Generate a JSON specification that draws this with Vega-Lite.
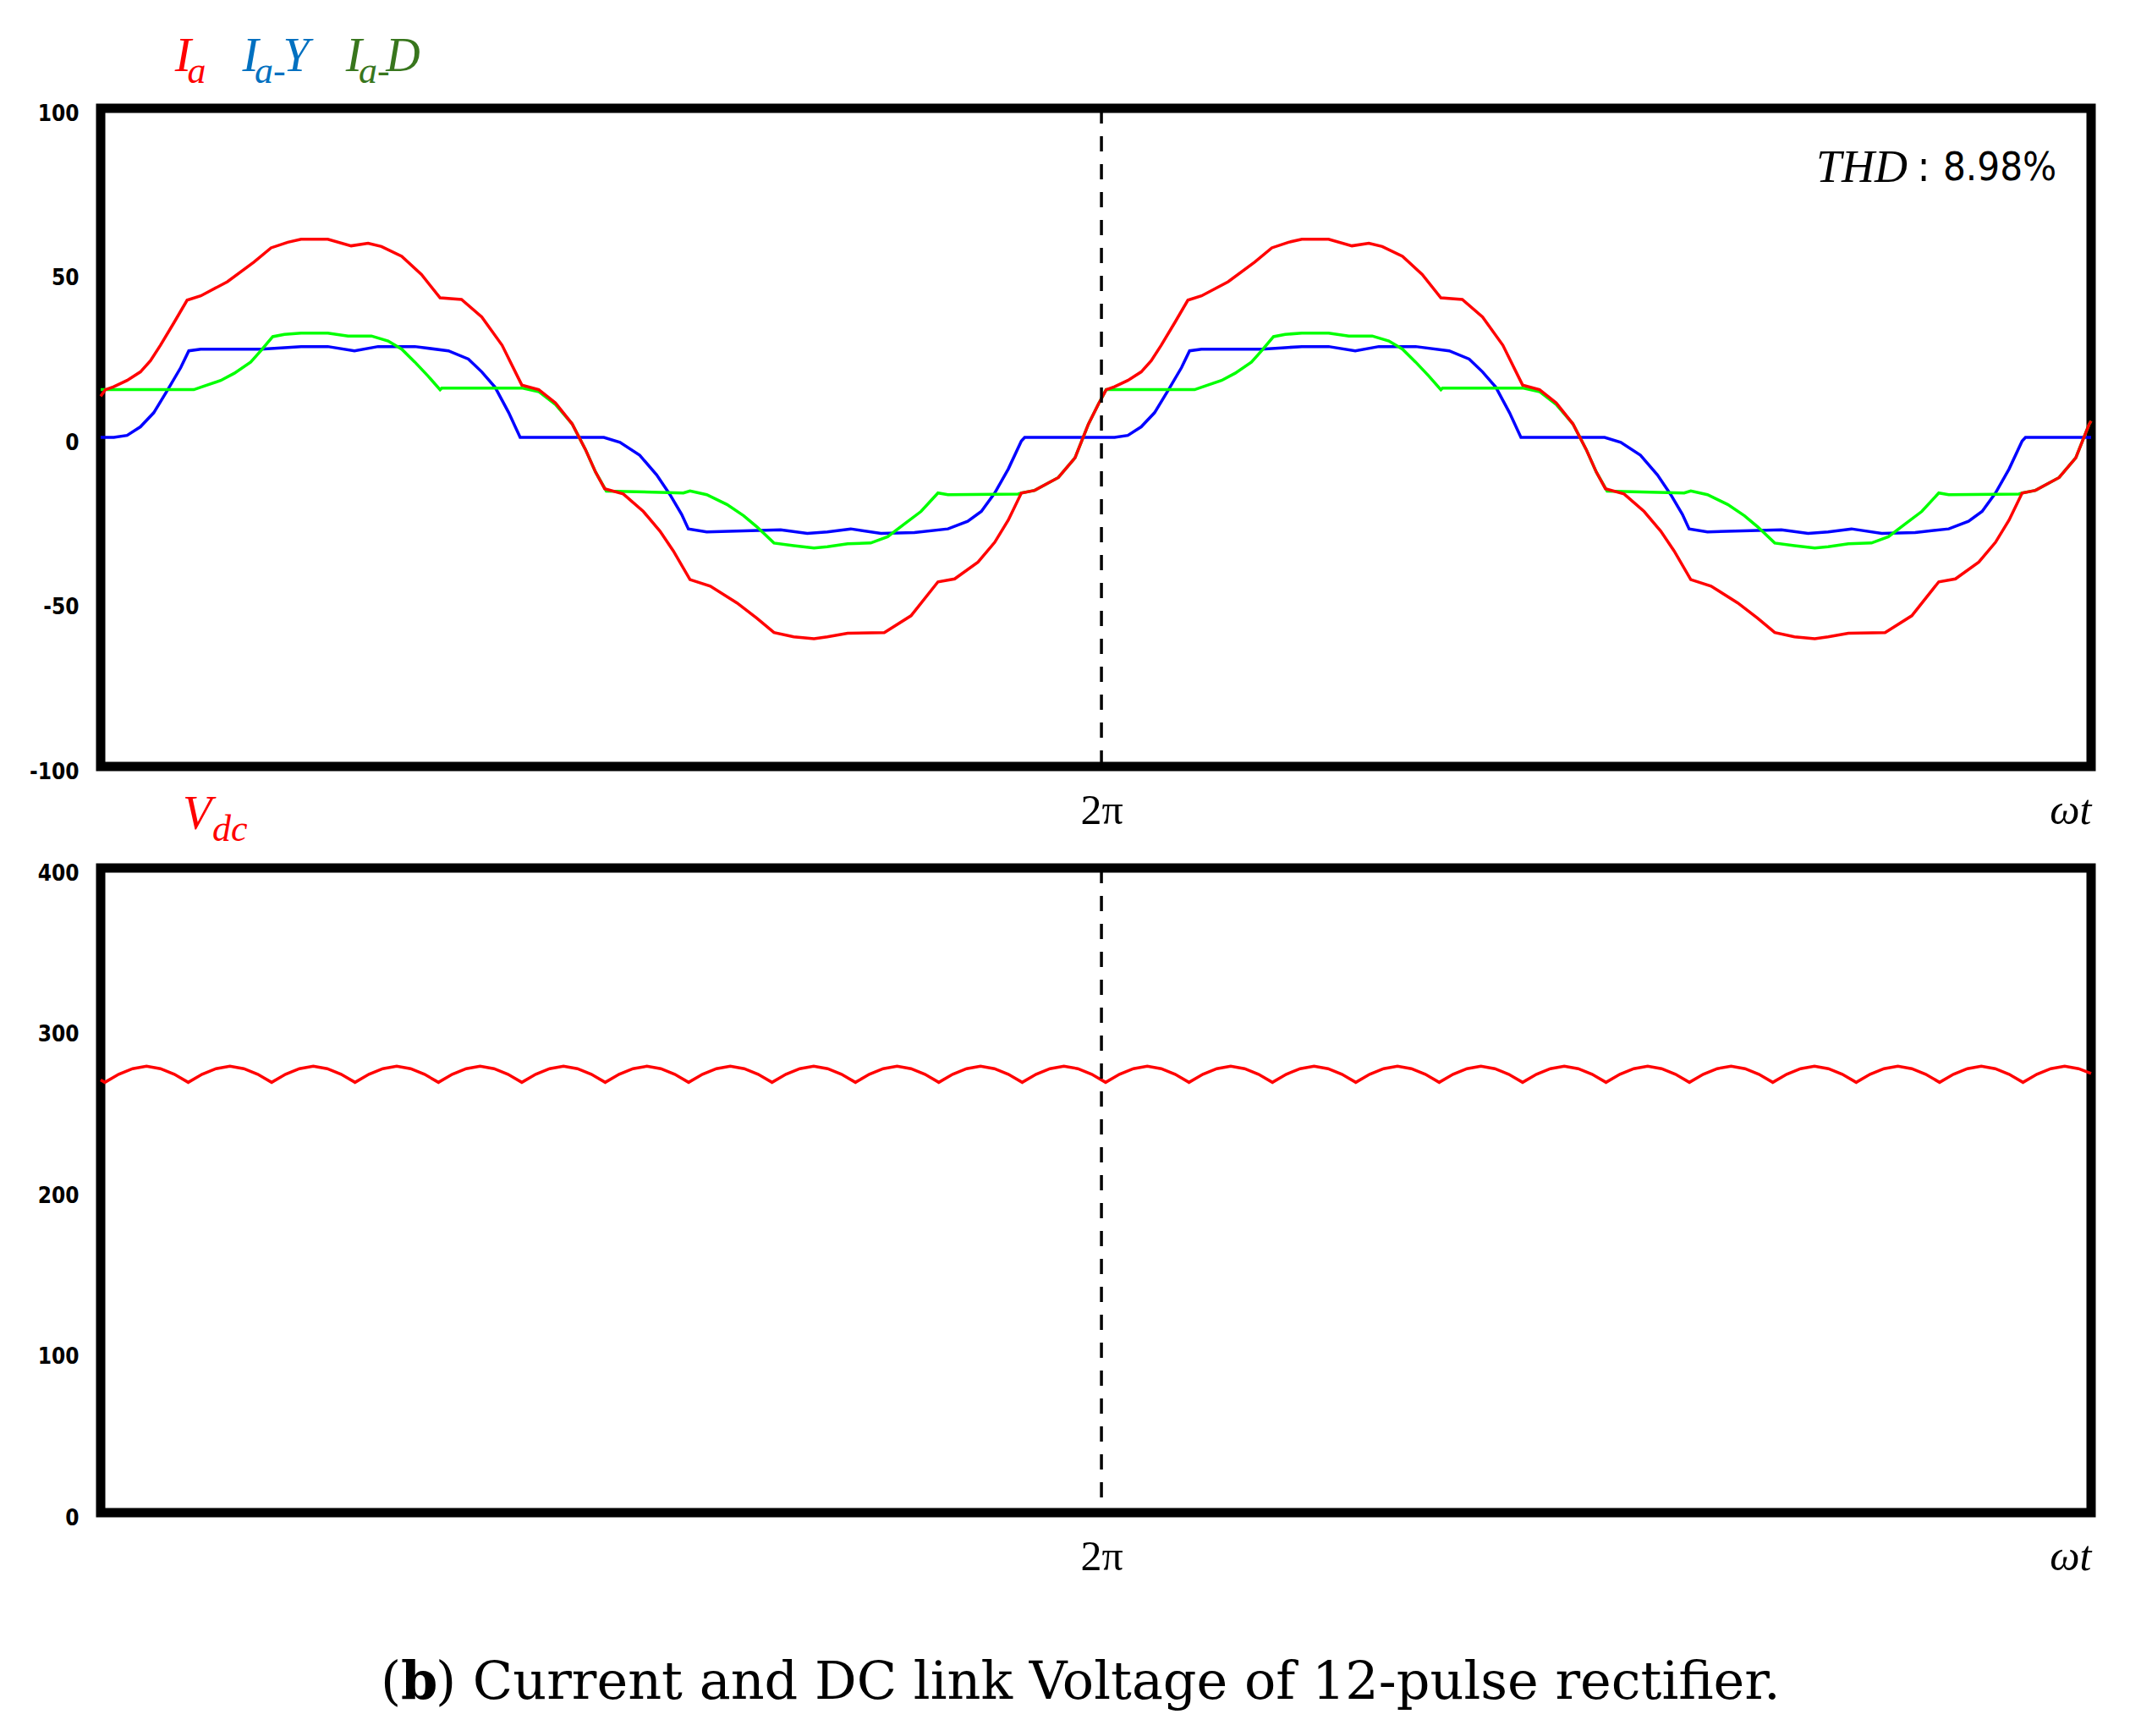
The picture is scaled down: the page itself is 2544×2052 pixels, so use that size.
{
  "$schema": "https://vega.github.io/schema/vega-lite/v6.json",
  "background": "white",
  "padding": {"left": 28, "top": 32, "right": 20, "bottom": 10},
  "bounds": "flush",
  "spacing": 120,
  "config": {
    "view": {"stroke": "black", "strokeWidth": 11},
    "axis": {"grid": false, "domain": false, "ticks": false, "title": null},
    "axisY": {
      "labelFont": "Liberation Sans Narrow, DejaVu Sans Condensed, sans-serif",
      "labelFontWeight": "bold",
      "labelFontSize": 26,
      "labelColor": "black",
      "labelPadding": 26,
      "labelOffset": 6
    },
    "axisX": {
      "labelFont": "Liberation Serif, DejaVu Serif, serif",
      "labelFontSize": 50,
      "labelColor": "black",
      "labelPadding": 27,
      "labelFlush": false
    }
  },
  "datasets": {
    "ia": [
      {"t":0,"v":12.5},{"t":1.7,"v":14.5},{"t":4.7,"v":15.4},{"t":9.5,"v":17.3},{"t":14.3,"v":19.9},{"t":17.9,"v":23.3},{"t":21.5,"v":28},{"t":26.4,"v":34.9},{"t":31.1,"v":41.7},{"t":36,"v":43},{"t":45.6,"v":47.3},{"t":55.2,"v":53.3},{"t":61.3,"v":57.6},{"t":67.3,"v":59.3},{"t":72.1,"v":60.2},{"t":81.7,"v":60.2},{"t":90.1,"v":58.2},{"t":96.2,"v":59},{"t":101,"v":58},{"t":108.3,"v":55},{"t":115.4,"v":49.5},{"t":122.1,"v":42.4},{"t":129.8,"v":41.9},{"t":137.1,"v":36.6},{"t":144.4,"v":28},{"t":151.5,"v":15.9},{"t":157.6,"v":14.5},{"t":163.6,"v":10.5},{"t":169.6,"v":4.1},{"t":174.4,"v":-3.7},{"t":178,"v":-10.5},{"t":181.3,"v":-15.6},{"t":188,"v":-17.2},{"t":195.2,"v":-22.5},{"t":201.2,"v":-28.5},{"t":206,"v":-34.5},{"t":212,"v":-43.2},{"t":219.3,"v":-45.2},{"t":228.9,"v":-50.3},{"t":236.1,"v":-55},{"t":242.2,"v":-59.3},{"t":249.3,"v":-60.6},{"t":256.6,"v":-61.2},{"t":261.4,"v":-60.6},{"t":268.7,"v":-59.5},{"t":281.9,"v":-59.3},{"t":291.5,"v":-54.2},{"t":301.2,"v":-43.9},{"t":307.2,"v":-43},{"t":315.6,"v":-37.9},{"t":321.6,"v":-31.9},{"t":326.5,"v":-25.1},{"t":331.2,"v":-16.9},{"t":336,"v":-16.1},{"t":344.5,"v":-12.2},{"t":350.5,"v":-6.2},{"t":355.3,"v":4},{"t":358.9,"v":10.1},
      {"t":361.7,"v":14.5},{"t":364.7,"v":15.4},{"t":369.5,"v":17.3},{"t":374.3,"v":19.9},{"t":377.9,"v":23.3},{"t":381.5,"v":28},{"t":386.4,"v":34.9},{"t":391.1,"v":41.7},{"t":396,"v":43},{"t":405.6,"v":47.3},{"t":415.2,"v":53.3},{"t":421.3,"v":57.6},{"t":427.3,"v":59.3},{"t":432.1,"v":60.2},{"t":441.7,"v":60.2},{"t":450.1,"v":58.2},{"t":456.2,"v":59},{"t":461,"v":58},{"t":468.3,"v":55},{"t":475.4,"v":49.5},{"t":482.1,"v":42.4},{"t":489.8,"v":41.9},{"t":497.1,"v":36.6},{"t":504.4,"v":28},{"t":511.5,"v":15.9},{"t":517.6,"v":14.5},{"t":523.6,"v":10.5},{"t":529.6,"v":4.1},{"t":534.4,"v":-3.7},{"t":538,"v":-10.5},{"t":541.3,"v":-15.6},{"t":548,"v":-17.2},{"t":555.2,"v":-22.5},{"t":561.2,"v":-28.5},{"t":566,"v":-34.5},{"t":572,"v":-43.2},{"t":579.3,"v":-45.2},{"t":588.9,"v":-50.3},{"t":596.1,"v":-55},{"t":602.2,"v":-59.3},{"t":609.3,"v":-60.6},{"t":616.6,"v":-61.2},{"t":621.4,"v":-60.6},{"t":628.7,"v":-59.5},{"t":641.9,"v":-59.3},{"t":651.5,"v":-54.2},{"t":661.2,"v":-43.9},{"t":667.2,"v":-43},{"t":675.6,"v":-37.9},{"t":681.6,"v":-31.9},{"t":686.5,"v":-25.1},{"t":691.2,"v":-16.9},{"t":696,"v":-16.1},{"t":704.5,"v":-12.2},{"t":710.5,"v":-6.2},{"t":715.3,"v":4},{"t":716,"v":5}
    ],
    "ia_y": [
      {"t":0,"v":0},{"t":4.7,"v":0},{"t":9.5,"v":0.6},{"t":14.3,"v":3.2},{"t":19.1,"v":7.5},{"t":24,"v":14.3},{"t":28.8,"v":21.2},{"t":31.7,"v":26.3},{"t":36,"v":26.8},{"t":57.6,"v":26.8},{"t":64.9,"v":27.2},{"t":72.1,"v":27.6},{"t":81.7,"v":27.6},{"t":91.3,"v":26.3},{"t":99.8,"v":27.6},{"t":113,"v":27.6},{"t":125.1,"v":26.3},{"t":132.3,"v":23.8},{"t":137.1,"v":19.9},{"t":141.9,"v":15.2},{"t":146.8,"v":7.5},{"t":150.9,"v":0},{"t":181,"v":0},{"t":186.8,"v":-1.5},{"t":193.9,"v":-5.4},{"t":200,"v":-11.4},{"t":204.8,"v":-17.4},{"t":209,"v":-23.4},{"t":211.4,"v":-27.8},{"t":218,"v":-28.7},{"t":244.6,"v":-28.1},{"t":254.2,"v":-29.2},{"t":261.4,"v":-28.7},{"t":269.8,"v":-27.8},{"t":280.7,"v":-29.2},{"t":292.7,"v":-28.9},{"t":304.8,"v":-27.8},{"t":311.9,"v":-25.5},{"t":316.8,"v":-22.5},{"t":321.6,"v":-16.9},{"t":326.5,"v":-9.6},{"t":331.2,"v":-1.1},{"t":332.4,"v":0},
      {"t":364.7,"v":0},{"t":369.5,"v":0.6},{"t":374.3,"v":3.2},{"t":379.1,"v":7.5},{"t":384,"v":14.3},{"t":388.8,"v":21.2},{"t":391.7,"v":26.3},{"t":396,"v":26.8},{"t":417.6,"v":26.8},{"t":424.9,"v":27.2},{"t":432.1,"v":27.6},{"t":441.7,"v":27.6},{"t":451.3,"v":26.3},{"t":459.8,"v":27.6},{"t":473,"v":27.6},{"t":485.1,"v":26.3},{"t":492.3,"v":23.8},{"t":497.1,"v":19.9},{"t":501.9,"v":15.2},{"t":506.8,"v":7.5},{"t":510.9,"v":0},{"t":541,"v":0},{"t":546.8,"v":-1.5},{"t":553.9,"v":-5.4},{"t":560,"v":-11.4},{"t":564.8,"v":-17.4},{"t":569,"v":-23.4},{"t":571.4,"v":-27.8},{"t":578,"v":-28.7},{"t":604.6,"v":-28.1},{"t":614.2,"v":-29.2},{"t":621.4,"v":-28.7},{"t":629.8,"v":-27.8},{"t":640.7,"v":-29.2},{"t":652.7,"v":-28.9},{"t":664.8,"v":-27.8},{"t":671.9,"v":-25.5},{"t":676.8,"v":-22.5},{"t":681.6,"v":-16.9},{"t":686.5,"v":-9.6},{"t":691.2,"v":-1.1},{"t":692.4,"v":0},{"t":716,"v":0}
    ],
    "ia_d": [
      {"t":0,"v":14.5},{"t":33.5,"v":14.5},{"t":37.2,"v":15.6},{"t":43.2,"v":17.3},{"t":48.1,"v":19.5},{"t":54,"v":22.9},{"t":57.6,"v":26.3},{"t":61.9,"v":30.6},{"t":66.1,"v":31.3},{"t":72.1,"v":31.7},{"t":81.7,"v":31.7},{"t":89,"v":30.8},{"t":97.4,"v":30.8},{"t":103.4,"v":29.3},{"t":108.3,"v":26.8},{"t":113,"v":22.9},{"t":117.8,"v":18.6},{"t":122.1,"v":14.5},{"t":122.7,"v":15},{"t":151.5,"v":15},{"t":157.6,"v":13.9},{"t":163.6,"v":10},{"t":169.6,"v":4.1},{"t":174.4,"v":-3.7},{"t":178,"v":-10.5},{"t":181.9,"v":-16.3},{"t":209.6,"v":-16.9},{"t":212,"v":-16.3},{"t":218,"v":-17.4},{"t":225.3,"v":-20.4},{"t":231.3,"v":-23.8},{"t":236.1,"v":-27.2},{"t":242.2,"v":-32.1},{"t":249.3,"v":-32.9},{"t":256.6,"v":-33.6},{"t":261.4,"v":-33.2},{"t":268.7,"v":-32.3},{"t":277,"v":-32.1},{"t":283.1,"v":-30.2},{"t":289,"v":-26.4},{"t":295.1,"v":-22.5},{"t":301.2,"v":-16.9},{"t":304.8,"v":-17.4},{"t":330,"v":-17.2},{"t":331.2,"v":-16.9},{"t":336,"v":-16.1},{"t":344.5,"v":-12.2},{"t":350.5,"v":-6.2},{"t":355.3,"v":4},{"t":358.9,"v":10.1},
      {"t":361.7,"v":14.5},{"t":393.5,"v":14.5},{"t":397.2,"v":15.6},{"t":403.2,"v":17.3},{"t":408.1,"v":19.5},{"t":414,"v":22.9},{"t":417.6,"v":26.3},{"t":421.9,"v":30.6},{"t":426.1,"v":31.3},{"t":432.1,"v":31.7},{"t":441.7,"v":31.7},{"t":449,"v":30.8},{"t":457.4,"v":30.8},{"t":463.4,"v":29.3},{"t":468.3,"v":26.8},{"t":473,"v":22.9},{"t":477.8,"v":18.6},{"t":482.1,"v":14.5},{"t":482.7,"v":15},{"t":511.5,"v":15},{"t":517.6,"v":13.9},{"t":523.6,"v":10},{"t":529.6,"v":4.1},{"t":534.4,"v":-3.7},{"t":538,"v":-10.5},{"t":541.9,"v":-16.3},{"t":569.6,"v":-16.9},{"t":572,"v":-16.3},{"t":578,"v":-17.4},{"t":585.3,"v":-20.4},{"t":591.3,"v":-23.8},{"t":596.1,"v":-27.2},{"t":602.2,"v":-32.1},{"t":609.3,"v":-32.9},{"t":616.6,"v":-33.6},{"t":621.4,"v":-33.2},{"t":628.7,"v":-32.3},{"t":637,"v":-32.1},{"t":643.1,"v":-30.2},{"t":649,"v":-26.4},{"t":655.1,"v":-22.5},{"t":661.2,"v":-16.9},{"t":664.8,"v":-17.4},{"t":690,"v":-17.2},{"t":691.2,"v":-16.9},{"t":696,"v":-16.1},{"t":704.5,"v":-12.2},{"t":710.5,"v":-6.2},{"t":715.3,"v":4},{"t":716,"v":5}
    ],
    "vdc": [
      {"t":0,"v":268.5},
      {"t":1.5,"v":267},{"t":6.5,"v":272},{"t":11.5,"v":275.5},{"t":16.5,"v":277},{"t":21.5,"v":275.5},{"t":26.5,"v":272},
      {"t":31.5,"v":267},{"t":36.5,"v":272},{"t":41.5,"v":275.5},{"t":46.5,"v":277},{"t":51.5,"v":275.5},{"t":56.5,"v":272},
      {"t":61.5,"v":267},{"t":66.5,"v":272},{"t":71.5,"v":275.5},{"t":76.5,"v":277},{"t":81.5,"v":275.5},{"t":86.5,"v":272},
      {"t":91.5,"v":267},{"t":96.5,"v":272},{"t":101.5,"v":275.5},{"t":106.5,"v":277},{"t":111.5,"v":275.5},{"t":116.5,"v":272},
      {"t":121.5,"v":267},{"t":126.5,"v":272},{"t":131.5,"v":275.5},{"t":136.5,"v":277},{"t":141.5,"v":275.5},{"t":146.5,"v":272},
      {"t":151.5,"v":267},{"t":156.5,"v":272},{"t":161.5,"v":275.5},{"t":166.5,"v":277},{"t":171.5,"v":275.5},{"t":176.5,"v":272},
      {"t":181.5,"v":267},{"t":186.5,"v":272},{"t":191.5,"v":275.5},{"t":196.5,"v":277},{"t":201.5,"v":275.5},{"t":206.5,"v":272},
      {"t":211.5,"v":267},{"t":216.5,"v":272},{"t":221.5,"v":275.5},{"t":226.5,"v":277},{"t":231.5,"v":275.5},{"t":236.5,"v":272},
      {"t":241.5,"v":267},{"t":246.5,"v":272},{"t":251.5,"v":275.5},{"t":256.5,"v":277},{"t":261.5,"v":275.5},{"t":266.5,"v":272},
      {"t":271.5,"v":267},{"t":276.5,"v":272},{"t":281.5,"v":275.5},{"t":286.5,"v":277},{"t":291.5,"v":275.5},{"t":296.5,"v":272},
      {"t":301.5,"v":267},{"t":306.5,"v":272},{"t":311.5,"v":275.5},{"t":316.5,"v":277},{"t":321.5,"v":275.5},{"t":326.5,"v":272},
      {"t":331.5,"v":267},{"t":336.5,"v":272},{"t":341.5,"v":275.5},{"t":346.5,"v":277},{"t":351.5,"v":275.5},{"t":356.5,"v":272},
      {"t":361.5,"v":267},{"t":366.5,"v":272},{"t":371.5,"v":275.5},{"t":376.5,"v":277},{"t":381.5,"v":275.5},{"t":386.5,"v":272},
      {"t":391.5,"v":267},{"t":396.5,"v":272},{"t":401.5,"v":275.5},{"t":406.5,"v":277},{"t":411.5,"v":275.5},{"t":416.5,"v":272},
      {"t":421.5,"v":267},{"t":426.5,"v":272},{"t":431.5,"v":275.5},{"t":436.5,"v":277},{"t":441.5,"v":275.5},{"t":446.5,"v":272},
      {"t":451.5,"v":267},{"t":456.5,"v":272},{"t":461.5,"v":275.5},{"t":466.5,"v":277},{"t":471.5,"v":275.5},{"t":476.5,"v":272},
      {"t":481.5,"v":267},{"t":486.5,"v":272},{"t":491.5,"v":275.5},{"t":496.5,"v":277},{"t":501.5,"v":275.5},{"t":506.5,"v":272},
      {"t":511.5,"v":267},{"t":516.5,"v":272},{"t":521.5,"v":275.5},{"t":526.5,"v":277},{"t":531.5,"v":275.5},{"t":536.5,"v":272},
      {"t":541.5,"v":267},{"t":546.5,"v":272},{"t":551.5,"v":275.5},{"t":556.5,"v":277},{"t":561.5,"v":275.5},{"t":566.5,"v":272},
      {"t":571.5,"v":267},{"t":576.5,"v":272},{"t":581.5,"v":275.5},{"t":586.5,"v":277},{"t":591.5,"v":275.5},{"t":596.5,"v":272},
      {"t":601.5,"v":267},{"t":606.5,"v":272},{"t":611.5,"v":275.5},{"t":616.5,"v":277},{"t":621.5,"v":275.5},{"t":626.5,"v":272},
      {"t":631.5,"v":267},{"t":636.5,"v":272},{"t":641.5,"v":275.5},{"t":646.5,"v":277},{"t":651.5,"v":275.5},{"t":656.5,"v":272},
      {"t":661.5,"v":267},{"t":666.5,"v":272},{"t":671.5,"v":275.5},{"t":676.5,"v":277},{"t":681.5,"v":275.5},{"t":686.5,"v":272},
      {"t":691.5,"v":267},{"t":696.5,"v":272},{"t":701.5,"v":275.5},{"t":706.5,"v":277},{"t":711.5,"v":275.5},{"t":716,"v":272.5}
    ]
  },
  "vconcat": [
    {
      "width": 2353,
      "height": 778,
      "layer": [
        {
          "data": {"name": "ia_y"},
          "mark": {"type": "line", "color": "#0000ff", "strokeWidth": 3.5},
          "encoding": {
            "x": {
              "field": "t", "type": "quantitative", "title": null,
              "scale": {"domain": [0, 716], "nice": false, "zero": false},
              "axis": {
                "title": null,
                "values": [360, 716],
                "labelExpr": "datum.value == 360 ? '2π' : 'ωt'",
                "labelAlign": {"condition": {"test": "datum.value == 716", "value": "right"}, "value": "center"},
                "labelFontStyle": {"condition": {"test": "datum.value == 716", "value": "italic"}, "value": "normal"}
              }
            },
            "y": {
              "field": "v", "type": "quantitative", "title": null,
              "scale": {"domain": [-100, 100], "nice": false, "zero": false},
              "axis": {"title": null, "values": [-100, -50, 0, 50, 100], "labelExpr": "replace(datum.label, '−', '-')"}
            }
          }
        },
        {
          "data": {"name": "ia_d"},
          "mark": {"type": "line", "color": "#00ff00", "strokeWidth": 3.5},
          "encoding": {
            "x": {"field": "t", "type": "quantitative", "title": null},
            "y": {"field": "v", "type": "quantitative", "title": null}
          }
        },
        {
          "data": {"name": "ia"},
          "mark": {"type": "line", "color": "#ff0000", "strokeWidth": 3.5},
          "encoding": {
            "x": {"field": "t", "type": "quantitative", "title": null},
            "y": {"field": "v", "type": "quantitative", "title": null}
          }
        },
        {
          "data": {"values": [{}]},
          "mark": {"type": "rule", "color": "black", "strokeWidth": 3.5, "strokeDash": [18, 15]},
          "encoding": {"x": {"datum": 360, "type": "quantitative"}}
        },
        {
          "data": {"values": [{}]},
          "mark": {"type": "text", "text": "8.98%", "font": "Liberation Sans Narrow, DejaVu Sans Condensed, sans-serif", "fontSize": 47, "align": "right", "baseline": "middle", "color": "black"},
          "encoding": {"x": {"datum": 703.6, "type": "quantitative"}, "y": {"datum": 81.7, "type": "quantitative"}}
        },
        {
          "data": {"values": [{}]},
          "mark": {"type": "text", "text": ":", "font": "Liberation Sans Narrow, DejaVu Sans Condensed, sans-serif", "fontSize": 50, "align": "center", "baseline": "middle", "color": "black"},
          "encoding": {"x": {"datum": 655.8, "type": "quantitative"}, "y": {"datum": 81.7, "type": "quantitative"}}
        },
        {
          "data": {"values": [{}]},
          "mark": {"type": "text", "text": "THD", "font": "Liberation Serif", "fontStyle": "italic", "fontSize": 54, "align": "right", "baseline": "middle", "color": "black"},
          "encoding": {"x": {"datum": 650, "type": "quantitative"}, "y": {"datum": 81.7, "type": "quantitative"}}
        },
        {
          "data": {"values": [{}]},
          "mark": {"type": "text", "text": "I", "font": "Liberation Serif", "fontStyle": "italic", "fontSize": 58, "align": "left", "baseline": "alphabetic", "color": "#ff0000"},
          "encoding": {"x": {"datum": 26.7, "type": "quantitative"}, "y": {"datum": 111.2, "type": "quantitative"}}
        },
        {
          "data": {"values": [{}]},
          "mark": {"type": "text", "text": "a", "font": "Liberation Serif", "fontStyle": "italic", "fontSize": 44, "align": "left", "baseline": "alphabetic", "color": "#ff0000"},
          "encoding": {"x": {"datum": 31.2, "type": "quantitative"}, "y": {"datum": 107.6, "type": "quantitative"}}
        },
        {
          "data": {"values": [{}]},
          "mark": {"type": "text", "text": "I", "font": "Liberation Serif", "fontStyle": "italic", "fontSize": 58, "align": "left", "baseline": "alphabetic", "color": "#0070c0"},
          "encoding": {"x": {"datum": 51, "type": "quantitative"}, "y": {"datum": 111.2, "type": "quantitative"}}
        },
        {
          "data": {"values": [{}]},
          "mark": {"type": "text", "text": "a-", "font": "Liberation Serif", "fontStyle": "italic", "fontSize": 44, "align": "left", "baseline": "alphabetic", "color": "#0070c0"},
          "encoding": {"x": {"datum": 55.4, "type": "quantitative"}, "y": {"datum": 107.6, "type": "quantitative"}}
        },
        {
          "data": {"values": [{}]},
          "mark": {"type": "text", "text": "Y", "font": "Liberation Serif", "fontStyle": "italic", "fontSize": 56, "align": "left", "baseline": "alphabetic", "color": "#0070c0"},
          "encoding": {"x": {"datum": 65.6, "type": "quantitative"}, "y": {"datum": 111.2, "type": "quantitative"}}
        },
        {
          "data": {"values": [{}]},
          "mark": {"type": "text", "text": "I", "font": "Liberation Serif", "fontStyle": "italic", "fontSize": 58, "align": "left", "baseline": "alphabetic", "color": "#38761d"},
          "encoding": {"x": {"datum": 88.2, "type": "quantitative"}, "y": {"datum": 111.2, "type": "quantitative"}}
        },
        {
          "data": {"values": [{}]},
          "mark": {"type": "text", "text": "a-", "font": "Liberation Serif", "fontStyle": "italic", "fontSize": 44, "align": "left", "baseline": "alphabetic", "color": "#38761d"},
          "encoding": {"x": {"datum": 92.8, "type": "quantitative"}, "y": {"datum": 107.6, "type": "quantitative"}}
        },
        {
          "data": {"values": [{}]},
          "mark": {"type": "text", "text": "D", "font": "Liberation Serif", "fontStyle": "italic", "fontSize": 56, "align": "left", "baseline": "alphabetic", "color": "#38761d"},
          "encoding": {"x": {"datum": 102.6, "type": "quantitative"}, "y": {"datum": 111.2, "type": "quantitative"}}
        }
      ]
    },
    {
      "width": 2353,
      "height": 762,
      "layer": [
        {
          "data": {"name": "vdc"},
          "mark": {"type": "line", "color": "#ff0000", "strokeWidth": 3.5},
          "encoding": {
            "x": {
              "field": "t", "type": "quantitative", "title": null,
              "scale": {"domain": [0, 716], "nice": false, "zero": false},
              "axis": {
                "title": null,
                "values": [360, 716],
                "labelExpr": "datum.value == 360 ? '2π' : 'ωt'",
                "labelAlign": {"condition": {"test": "datum.value == 716", "value": "right"}, "value": "center"},
                "labelFontStyle": {"condition": {"test": "datum.value == 716", "value": "italic"}, "value": "normal"}
              }
            },
            "y": {
              "field": "v", "type": "quantitative", "title": null,
              "scale": {"domain": [0, 400], "nice": false, "zero": false},
              "axis": {"title": null, "values": [0, 100, 200, 300, 400]}
            }
          }
        },
        {
          "data": {"values": [{}]},
          "mark": {"type": "rule", "color": "black", "strokeWidth": 3.5, "strokeDash": [18, 15]},
          "encoding": {"x": {"datum": 360, "type": "quantitative"}}
        },
        {
          "data": {"values": [{}]},
          "mark": {"type": "text", "text": "V", "font": "Liberation Serif", "fontStyle": "italic", "fontSize": 56, "align": "left", "baseline": "alphabetic", "color": "#ff0000"},
          "encoding": {"x": {"datum": 29.5, "type": "quantitative"}, "y": {"datum": 423.9, "type": "quantitative"}}
        },
        {
          "data": {"values": [{}]},
          "mark": {"type": "text", "text": "dc", "font": "Liberation Serif", "fontStyle": "italic", "fontSize": 44, "align": "left", "baseline": "alphabetic", "color": "#ff0000"},
          "encoding": {"x": {"datum": 40.2, "type": "quantitative"}, "y": {"datum": 416.8, "type": "quantitative"}}
        },
        {
          "data": {"values": [{}]},
          "mark": {"type": "text", "text": "(", "font": "DejaVu Serif", "fontSize": 62, "align": "left", "baseline": "alphabetic", "color": "black"},
          "encoding": {"x": {"datum": 100.7, "type": "quantitative"}, "y": {"datum": -115.5, "type": "quantitative"}}
        },
        {
          "data": {"values": [{}]},
          "mark": {"type": "text", "text": "b", "font": "DejaVu Serif", "fontWeight": "bold", "fontSize": 62, "align": "left", "baseline": "alphabetic", "dx": 24, "color": "black"},
          "encoding": {"x": {"datum": 100.7, "type": "quantitative"}, "y": {"datum": -115.5, "type": "quantitative"}}
        },
        {
          "data": {"values": [{}]},
          "mark": {"type": "text", "text": ") Current and DC link Voltage of 12-pulse rectifier.", "font": "DejaVu Serif", "fontSize": 62, "align": "left", "baseline": "alphabetic", "dx": 65, "color": "black"},
          "encoding": {"x": {"datum": 100.7, "type": "quantitative"}, "y": {"datum": -115.5, "type": "quantitative"}}
        }
      ]
    }
  ]
}
